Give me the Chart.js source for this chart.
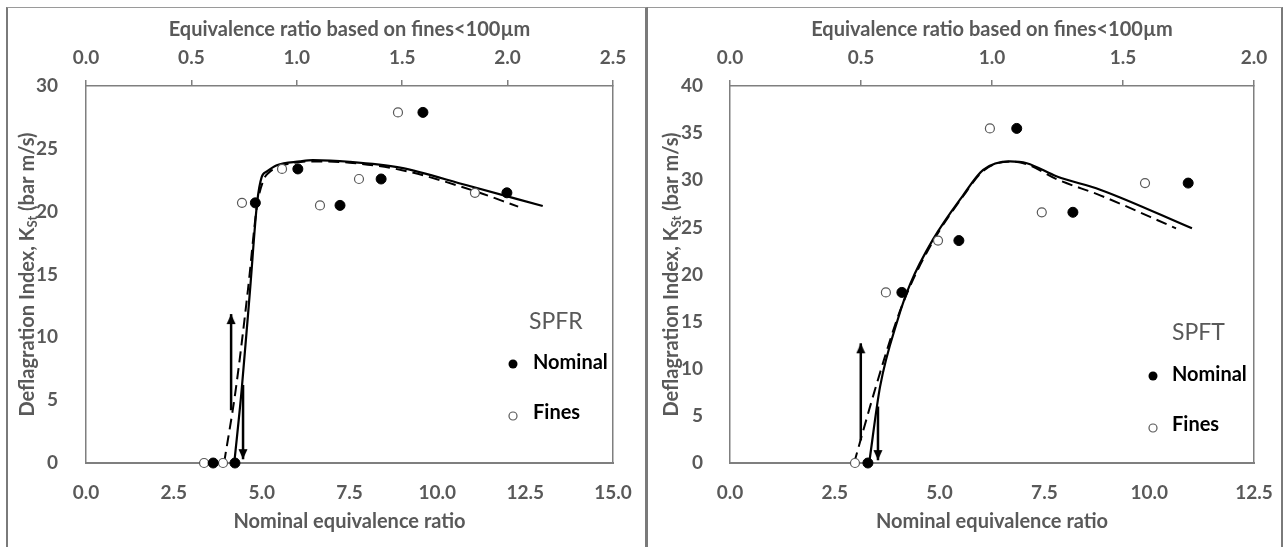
<!DOCTYPE html>
<html><head><meta charset="utf-8">
<script src="https://cdn.jsdelivr.net/npm/chart.js@4/dist/chart.umd.min.js"></script>
<style>
html,body{margin:0;padding:0;background:#fff;width:1285px;height:547px;overflow:hidden;position:relative;}
.frame{position:absolute;top:7px;height:600px;box-sizing:border-box;border-top:1px solid #9a9a9a;}
#f1{left:6px;width:642px;border-left:2px solid #7a7a7a;border-right:3px solid #7a7a7a;}
#f2{left:648px;width:635px;border-right:2px solid #7a7a7a;}
canvas{position:absolute;top:0;}
#c1{left:0;}
#c2{left:648px;}
</style></head>
<body>
<div class="frame" id="f1"></div><div class="frame" id="f2"></div>
<canvas id="c1" width="646" height="547"></canvas>
<canvas id="c2" width="637" height="547"></canvas>
<script>
// ---------- DATA ----------
// Left panel: SPFR
const leftNominalX = [3.62, 4.24, 4.82, 6.03, 7.23, 8.40, 9.59, 11.98];
const leftNominalY = [0, 0, 20.7, 23.4, 20.5, 22.6, 27.9, 21.5];
const leftFinesX   = [0.56, 0.65, 0.74, 0.93, 1.11, 1.295, 1.48, 1.845]; // top axis (fines)
const leftFinesY   = [0, 0, 20.7, 23.4, 20.5, 22.6, 27.9, 21.5];
const leftSolidX   = [4.22, 4.43, 4.67, 4.87, 5.0, 5.15, 5.43, 6.09, 6.46, 7.5, 8.94, 10.84, 13.0];
const leftSolidY   = [0, 5.8, 13.8, 20.7, 22.75, 23.2, 23.7, 24.0, 24.1, 23.97, 23.5, 22.1, 20.45];
const leftDashedX  = [3.93, 4.26, 4.61, 4.87, 5.05, 5.2, 5.5, 6.1, 6.5, 7.5, 9.0, 11.0, 12.3];
const leftDashedY  = [0, 5.8, 13.8, 20.5, 22.5, 23.1, 23.6, 23.95, 24.0, 23.9, 23.3, 21.7, 20.4];
const leftArrowUp   = {x: 4.13, from: 4.2, to: 11.85};
const leftArrowDown = {x: 4.47, from: 6.2, to: 0.3};
const leftXTicks  = ['0.0','2.5','5.0','7.5','10.0','12.5','15.0'];
const leftX2Ticks = ['0.0','0.5','1.0','1.5','2.0','2.5'];
const leftYTicks  = ['0','5','10','15','20','25','30'];

// Right panel: SPFT
const rightNominalX = [3.29, 4.10, 5.46, 6.84, 8.18, 10.93];
const rightNominalY = [0, 18.1, 23.6, 35.5, 26.6, 29.7];
const rightFinesX   = [0.477, 0.595, 0.794, 0.992, 1.19, 1.584]; // top axis (fines)
const rightFinesY   = [0, 18.1, 23.6, 35.5, 26.6, 29.7];
const rightSolidX   = [3.32, 3.58, 4.0, 4.3, 4.84, 5.56, 6.04, 6.68, 7.08, 7.8, 8.83, 11.02];
const rightSolidY   = [0, 8.1, 15.2, 19.0, 23.7, 28.4, 31.1, 32.0, 31.8, 30.4, 29.0, 24.9];
const rightDashedX  = [2.96, 3.48, 3.98, 4.3, 4.84, 5.56, 6.04, 6.68, 7.08, 7.8, 8.83, 10.64];
const rightDashedY  = [0, 8.1, 15.2, 18.8, 23.5, 28.3, 31.0, 32.0, 31.7, 30.1, 28.4, 24.9];
const rightArrowUp   = {x: 3.12, from: 2.4, to: 12.7};
const rightArrowDown = {x: 3.53, from: 6.0, to: 0.3};
const rightXTicks  = ['0.0','2.5','5.0','7.5','10.0','12.5'];
const rightX2Ticks = ['0.0','0.5','1.0','1.5','2.0'];
const rightYTicks  = ['0','5','10','15','20','25','30','35','40'];

const topTitle = 'Equivalence ratio based on fines<100µm';
const bottomTitle = 'Nominal equivalence ratio';
const yTitleParts = ['Deflagration Index, K', 'St', ' (bar m/s)'];
const legendLabels = ['Nominal', 'Fines'];

// ---------- rendering ----------
const GREY = '#595959';
const AXIS = '#7f7f7f';
const FONT = 'Lato';

function pts(xs, ys){ return xs.map((x,i)=>({x, y: ys[i]})); }

// arrowhead image with its tip at the image centre (points up)
const head = document.createElement('canvas');
head.width = 10; head.height = 22;
(function(){const g=head.getContext('2d');g.fillStyle='#000';g.beginPath();g.moveTo(5,11);g.lineTo(0.5,21);g.lineTo(9.5,21);g.closePath();g.fill();})();

function arrowDS(a, down){
  return {label:'arrow', data:[{x:a.x,y:a.from},{x:a.x,y:a.to}], showLine:true, borderColor:'#000', borderWidth:2.5,
    pointRadius:[0,6], pointStyle:[false, head], rotation:[0, down?180:0], pointHoverRadius:0, clip:false, order:3};
}

const annot = {
  id:'annot',
  afterDraw(chart, args, o){
    const ctx = chart.ctx, a = chart.chartArea;
    // y-axis title with subscript
    ctx.save();
    ctx.translate(o.yTitleX, (a.top + a.bottom)/2);
    ctx.rotate(-Math.PI/2);
    const big = 'bold 20px '+FONT, small = 'bold 13px '+FONT;
    ctx.font = big; const w1 = ctx.measureText(yTitleParts[0]).width, w3 = ctx.measureText(yTitleParts[2]).width;
    ctx.font = small; const w2 = ctx.measureText(yTitleParts[1]).width;
    let x = -(w1+w2+w3)/2;
    ctx.fillStyle = GREY; ctx.textBaseline = 'middle'; ctx.textAlign = 'left';
    ctx.font = big; ctx.fillText(yTitleParts[0], x, 0); x += w1;
    ctx.font = small; ctx.fillText(yTitleParts[1], x, 5); x += w2;
    ctx.font = big; ctx.fillText(yTitleParts[2], x, 0);
    ctx.restore();
    // legend block
    ctx.save();
    ctx.textBaseline = 'middle'; ctx.textAlign = 'left';
    ctx.font = '23px '+FONT; ctx.fillStyle = GREY;
    ctx.fillText(o.name, a.right + o.nameDx, o.nameY);
    ctx.font = 'bold 20px '+FONT; ctx.fillStyle = '#000';
    ctx.fillText(legendLabels[0], a.right + o.textDx, o.nomY);
    ctx.fillText(legendLabels[1], a.right + o.textDx, o.finY);
    ctx.beginPath(); ctx.arc(a.right + o.markDx, o.nomY+1, 4.5, 0, Math.PI*2);
    ctx.fillStyle='#000'; ctx.fill();
    ctx.beginPath(); ctx.arc(a.right + o.markDx, o.finY+3, 4, 0, Math.PI*2);
    ctx.fillStyle='#fff'; ctx.fill(); ctx.lineWidth=1.2; ctx.strokeStyle=GREY; ctx.stroke();
    ctx.restore();
  }
};

function makeChart(id, d){
  const tickFont = {family:FONT, size:19, weight:'bold'};
  const titleFont = {family:FONT, size:20, weight:'bold'};
  return new Chart(document.getElementById(id), {
    type:'scatter',
    data:{datasets:[
      {label:'Nominal', data:pts(d.nomX,d.nomY), xAxisID:'x', yAxisID:'y', pointRadius:5, pointBackgroundColor:'#000', pointBorderColor:'#000', pointBorderWidth:1, clip:false, order:0},
      {label:'Fines', data:pts(d.finX,d.finY), xAxisID:'x2', yAxisID:'y', pointRadius:4.5, pointBackgroundColor:'#fff', pointBorderColor:GREY, pointBorderWidth:1.2, clip:false, order:1},
      {label:'Nominal fit', data:pts(d.solX,d.solY), xAxisID:'x', yAxisID:'y', showLine:true, borderColor:'#000', borderWidth:2.2, pointRadius:0, cubicInterpolationMode:'monotone', clip:false, order:2},
      {label:'Fines fit', data:pts(d.dasX,d.dasY), xAxisID:'x', yAxisID:'y', showLine:true, borderColor:'#000', borderWidth:2, borderDash:[11,6], pointRadius:0, cubicInterpolationMode:'monotone', clip:false, order:2},
      arrowDS(d.up, false), arrowDS(d.down, true)
    ]},
    options:{
      responsive:false, animation:false, devicePixelRatio:1,
      layout:{padding:{left:0, right:d.padRight, top:0, bottom:0}},
      plugins:{legend:{display:false}, tooltip:{enabled:false}, annot:d.annot},
      scales:{
        x:{type:'linear', position:'bottom', min:0, max:d.xMax,
           ticks:{stepSize:2.5, font:tickFont, color:GREY, padding:10.5, maxRotation:0, callback:(v,i)=>d.xTicks[i]},
           grid:{display:false}, border:{display:true, color:AXIS, width:2},
           title:{display:true, text:bottomTitle, font:titleFont, color:GREY, padding:{top:0, bottom:13}},
           afterFit(s){ s.height = 84; }},
        x2:{type:'linear', position:'top', min:0, max:d.x2Max,
           ticks:{stepSize:0.5, font:tickFont, color:GREY, padding:10.5, maxRotation:0, callback:(v,i)=>d.x2Ticks[i]},
           grid:{display:true, drawOnChartArea:false, drawTicks:true, tickLength:6, color:AXIS, lineWidth:1.5},
           border:{display:true, color:AXIS, width:1.5},
           title:{display:true, text:topTitle, font:titleFont, color:GREY, padding:{top:18, bottom:0}},
           afterFit(s){ s.height = 86; }},
        y:{type:'linear', position:'left', min:0, max:d.yMax,
           ticks:{stepSize:5, font:tickFont, color:GREY, padding:d.yPad, callback:(v,i)=>d.yTicks[i]},
           grid:{display:false}, border:{display:true, color:AXIS, width:1.5},
           afterFit(s){ s.width = d.yWidth; }},
        y2:{type:'linear', position:'right', min:0, max:d.yMax, display:true,
           ticks:{display:false}, grid:{display:false}, border:{display:true, color:AXIS, width:1.5},
           afterFit(s){ s.width = 0; }}
      }
    },
    plugins:[annot]
  });
}

makeChart('c1', {
  nomX:leftNominalX, nomY:leftNominalY, finX:leftFinesX, finY:leftFinesY,
  solX:leftSolidX, solY:leftSolidY, dasX:leftDashedX, dasY:leftDashedY,
  up:leftArrowUp, down:leftArrowDown, xMax:15, x2Max:2.5, yMax:30,
  xTicks:leftXTicks, x2Ticks:leftX2Ticks, yTicks:leftYTicks,
  padRight:33, yWidth:86, yPad:20,
  annot:{yTitleX:28, name:'SPFR', nameDx:-84, nameY:322, textDx:-80, markDx:-100, nomY:363, finY:413}
});
makeChart('c2', {
  nomX:rightNominalX, nomY:rightNominalY, finX:rightFinesX, finY:rightFinesY,
  solX:rightSolidX, solY:rightSolidY, dasX:rightDashedX, dasY:rightDashedY,
  up:rightArrowUp, down:rightArrowDown, xMax:12.5, x2Max:2.0, yMax:40,
  xTicks:rightXTicks, x2Ticks:rightX2Ticks, yTicks:rightYTicks,
  padRight:31, yWidth:82, yPad:19,
  annot:{yTitleX:24, name:'SPFT', nameDx:-82, nameY:333, textDx:-82, markDx:-101, nomY:375, finY:425}
});
</script>
</body></html>
